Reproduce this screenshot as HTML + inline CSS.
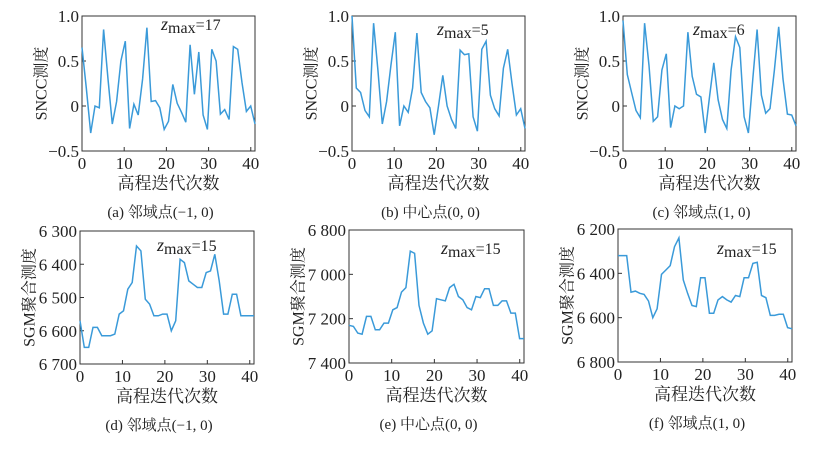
<!DOCTYPE html>
<html><head><meta charset="utf-8"><style>
body{margin:0;background:#fff;}
svg text{font-family:"Liberation Serif","Noto Serif CJK SC","Noto Sans CJK SC",serif;fill:#222;}
</style></head><body>
<svg id="s" width="814" height="446" xmlns="http://www.w3.org/2000/svg"></svg>
<script>
const P=[
 {l:82,r:255,t:16,b:151,lo:-0.5,hi:1.0,ticks:[[1.0,"1.0"],[0.5,"0.5"],[0,"0"],[-0.5,"−0.5"]],yl:"SNCC测度",ylx:42,z:[161,30,"17"],cap:"(a) 邻域点(−1, 0)",inv:false,
  d:[0.65,0.2,-0.3,0.0,-0.02,0.85,0.3,-0.2,0.05,0.5,0.72,-0.25,0.02,-0.1,0.3,0.87,0.05,0.06,-0.02,-0.26,-0.17,0.24,0.03,-0.07,-0.18,0.68,0.13,0.6,-0.1,-0.26,0.63,0.5,-0.09,-0.04,-0.15,0.66,0.63,0.26,-0.06,0.0,-0.2]},
 {l:352,r:525,t:16,b:151,lo:-0.5,hi:1.0,ticks:[[1.0,"1.0"],[0.5,"0.5"],[0,"0"],[-0.5,"−0.5"]],yl:"SNCC测度",ylx:312,z:[437,35,"5"],cap:"(b) 中心点(0, 0)",inv:false,
  d:[1.0,0.2,0.15,-0.05,-0.12,0.92,0.4,-0.2,0.05,0.45,0.82,-0.22,0.0,-0.07,0.2,0.81,0.15,0.05,-0.02,-0.32,0.0,0.34,0.0,-0.15,-0.25,0.62,0.57,0.58,-0.12,-0.28,0.63,0.72,0.12,-0.03,-0.11,0.42,0.63,0.25,-0.1,-0.03,-0.25]},
 {l:623,r:796,t:16,b:151,lo:-0.5,hi:1.0,ticks:[[1.0,"1.0"],[0.5,"0.5"],[0,"0"],[-0.5,"−0.5"]],yl:"SNCC测度",ylx:583,z:[693,35,"6"],cap:"(c) 邻域点(1, 0)",inv:false,
  d:[0.95,0.35,0.15,-0.05,-0.13,0.92,0.45,-0.17,-0.12,0.4,0.58,-0.24,0.0,-0.03,0.0,0.82,0.33,0.13,0.1,-0.3,0.1,0.48,0.07,-0.15,-0.25,0.4,0.77,0.65,-0.12,-0.3,0.3,0.85,0.12,-0.08,-0.03,0.4,0.88,0.3,-0.09,-0.1,-0.22]},
 {l:80,r:254,t:231,b:364,lo:6300,hi:6700,ticks:[[6300,"6 300"],[6400,"6 400"],[6500,"6 500"],[6600,"6 600"],[6700,"6 700"]],yl:"SGM聚合测度",ylx:30,z:[157,251,"15"],cap:"(d) 邻域点(−1, 0)",inv:true,
  d:[6570,6650,6650,6590,6590,6615,6615,6615,6610,6550,6540,6475,6455,6345,6360,6505,6520,6555,6555,6550,6550,6600,6570,6385,6395,6450,6460,6470,6470,6425,6420,6370,6450,6550,6550,6490,6490,6555,6555,6555,6555]},
 {l:349,r:524,t:230,b:363,lo:6800,hi:7400,ticks:[[6800,"6 800"],[7000,"7 000"],[7200,"7 200"],[7400,"7 400"]],yl:"SGM聚合测度",ylx:299,z:[441,254,"15"],cap:"(e) 中心点(0, 0)",inv:true,
  d:[7230,7235,7265,7270,7190,7190,7250,7250,7220,7220,7160,7150,7080,7060,6895,6905,7140,7220,7270,7255,7110,7115,7120,7060,7045,7100,7115,7150,7160,7100,7105,7065,7065,7140,7140,7120,7120,7175,7175,7290,7290]},
 {l:618,r:792,t:229,b:362,lo:6200,hi:6800,ticks:[[6200,"6 200"],[6400,"6 400"],[6600,"6 600"],[6800,"6 800"]],yl:"SGM聚合测度",ylx:568,z:[717,254,"15"],cap:"(f) 邻域点(1, 0)",inv:true,
  d:[6320,6320,6320,6485,6480,6490,6495,6525,6600,6560,6405,6385,6365,6280,6240,6430,6490,6545,6550,6420,6420,6580,6580,6520,6505,6520,6530,6500,6505,6420,6420,6355,6350,6500,6510,6590,6590,6585,6585,6645,6650]}
];
let h="";
for(const p of P){
 const W=p.r-p.l,H=p.b-p.t;
 const fy=v=>p.inv? p.t+(v-p.lo)/(p.hi-p.lo)*H : p.b-(v-p.lo)/(p.hi-p.lo)*H;
 const fx=x=>p.l+x/41*W;
 h+=`<rect x="${p.l}" y="${p.t}" width="${W}" height="${H}" fill="none" stroke="#333" stroke-width="1"/>`;
 for(const [v,s] of p.ticks){const y=fy(v);h+=`<line x1="${p.l}" x2="${p.l+4}" y1="${y}" y2="${y}" stroke="#333"/><text x="${p.l-3}" y="${y+6}" font-size="17" text-anchor="end">${s}</text>`;}
 for(const x of [0,10,20,30,40]){const X=fx(x);h+=`<line x1="${X}" x2="${X}" y1="${p.b}" y2="${p.b-4}" stroke="#333"/><text x="${X}" y="${p.b+18}" font-size="17" text-anchor="middle">${x}</text>`;}
 const n=p.d.length;
 h+=`<polyline fill="none" stroke="#3a9ad9" stroke-width="1.5" points="${p.d.map((v,i)=>fx(i*41/(n-1)).toFixed(1)+","+fy(v).toFixed(1)).join(" ")}"/>`;
 const cy=(p.t+p.b)/2;
 h+=`<text transform="translate(${p.ylx},${cy}) rotate(-90)" font-size="16" text-anchor="middle" dominant-baseline="central">${p.yl}</text>`;
 h+=`<text x="${p.z[0]}" y="${p.z[1]}" font-size="16"><tspan font-style="italic" font-size="18">z</tspan><tspan dy="3">max</tspan><tspan dy="-3">=${p.z[2]}</tspan></text>`;
 const cx=(p.l+p.r)/2;
 h+=`<text x="${cx}" y="${p.b+38}" font-size="17" text-anchor="middle">高程迭代次数</text>`;
 h+=`<text x="${cx-8}" y="${p.b+66}" font-size="15" text-anchor="middle">${p.cap}</text>`;
}
document.getElementById("s").innerHTML=h;
</script>
</body></html>
